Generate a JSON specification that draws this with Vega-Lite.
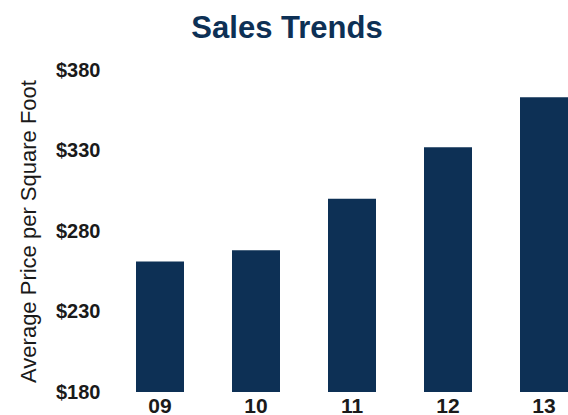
{
  "$schema": "https://vega.github.io/schema/vega-lite/v6.json",
  "width": 432,
  "height": 322,
  "autosize": {"type": "none"},
  "padding": {"left": 136, "top": 70, "right": 0, "bottom": 23},
  "background": "white",
  "config": {"view": {"stroke": null}},
  "title": {
    "text": "Sales Trends",
    "font": "Liberation Sans",
    "fontSize": 31,
    "fontWeight": "bold",
    "color": "#0d3055",
    "anchor": "middle",
    "dx": -65,
    "offset": 15
  },
  "data": {
    "values": [
      {"year": "09", "price": 261},
      {"year": "10", "price": 268},
      {"year": "11", "price": 300},
      {"year": "12", "price": 332},
      {"year": "13", "price": 363}
    ]
  },
  "mark": {"type": "bar", "color": "#0d3055", "clip": true},
  "encoding": {
    "x": {
      "field": "year",
      "type": "ordinal",
      "scale": {"paddingInner": 0.5, "paddingOuter": 0},
      "axis": {
        "title": null,
        "labelAngle": 0,
        "domain": false,
        "ticks": false,
        "labelPadding": 3,
        "labelFont": "Liberation Sans",
        "labelFontWeight": "bold",
        "labelFontSize": 21,
        "labelColor": "#1a1a1a"
      }
    },
    "y": {
      "field": "price",
      "type": "quantitative",
      "scale": {"domain": [180, 380], "nice": false, "zero": false},
      "axis": {
        "title": "Average Price per Square Foot",
        "values": [180, 230, 280, 330, 380],
        "format": "$.0f",
        "grid": false,
        "domain": false,
        "ticks": false,
        "labelPadding": 36,
        "labelFlush": false,
        "labelOverlap": false,
        "labelFont": "Liberation Sans",
        "labelFontWeight": "bold",
        "labelFontSize": 20,
        "labelColor": "#1a1a1a",
        "titleFont": "Liberation Sans",
        "titleFontSize": 22,
        "titleFontWeight": "normal",
        "titleColor": "#1a1a1a",
        "titlePadding": 15
      }
    }
  }
}
